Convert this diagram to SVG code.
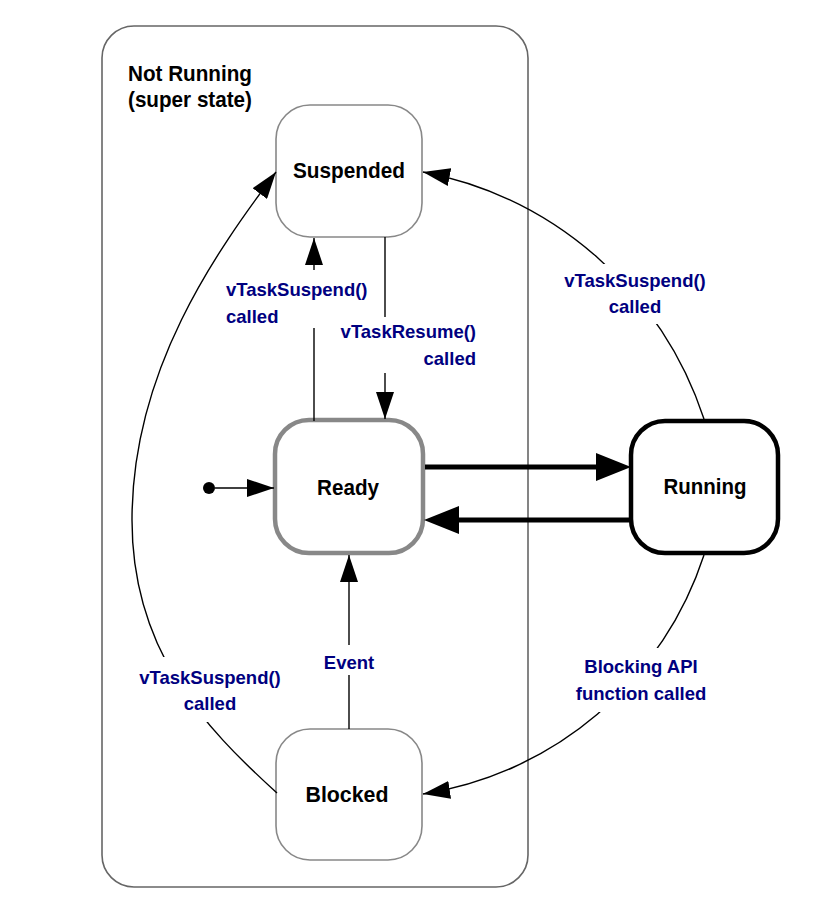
<svg xmlns="http://www.w3.org/2000/svg" width="817" height="900" viewBox="0 0 817 900">
<style>
.title{font-family:"Liberation Sans",Arial,sans-serif;font-weight:bold;font-size:22px;fill:#000}
.lbl{font-family:"Liberation Sans",Arial,sans-serif;font-weight:bold;font-size:18.5px;fill:#000080}
.conn{fill:none;stroke:#000;stroke-width:1.4}
.thick{fill:none;stroke:#000;stroke-width:5}
.bg{fill:#fff;stroke:none}
.light{fill:#fff;stroke:#888;stroke-width:1.6}
</style>
<defs>
<marker id="arr" markerUnits="userSpaceOnUse" markerWidth="28" markerHeight="18" refX="27" refY="9" orient="auto">
<path d="M0,0 L27,9 L0,18 z" fill="#000"/>
</marker>
<marker id="arrT" markerUnits="userSpaceOnUse" markerWidth="36" markerHeight="28" refX="0" refY="14" orient="auto">
<path d="M0,0 L35,14 L0,28 z" fill="#000"/>
</marker>
</defs>
<rect width="817" height="900" fill="#fff"/>

<g id="superstate">
<rect x="102" y="26" width="426" height="861" rx="32" fill="none" stroke="#666" stroke-width="1.6"/>
<text class="title" x="128" y="81" textLength="124" lengthAdjust="spacingAndGlyphs">Not Running</text>
<text class="title" x="128" y="107" textLength="124" lengthAdjust="spacingAndGlyphs">(super state)</text>
</g>

<g id="suspended">
<rect class="light" x="276" y="105" width="146" height="132" rx="34"/>
<text class="title" x="349" y="178" text-anchor="middle" textLength="112" lengthAdjust="spacingAndGlyphs">Suspended</text>
</g>

<g id="ready">
<rect x="275" y="420" width="148" height="133" rx="34" fill="#fff" stroke="#888" stroke-width="4.5"/>
<text class="title" x="348" y="495" text-anchor="middle" textLength="62" lengthAdjust="spacingAndGlyphs">Ready</text>
</g>

<g id="running">
<rect x="631" y="421" width="147" height="132" rx="34" fill="#fff" stroke="#000" stroke-width="4.5"/>
<text class="title" x="705" y="494" text-anchor="middle" textLength="83" lengthAdjust="spacingAndGlyphs">Running</text>
</g>

<g id="blocked">
<rect class="light" x="276" y="729" width="146" height="131" rx="34"/>
<text class="title" x="347" y="802" text-anchor="middle" textLength="83" lengthAdjust="spacingAndGlyphs">Blocked</text>
</g>

<g id="initial">
<circle cx="209" cy="488" r="6" fill="#000"/>
</g>

<g id="connectors">
<path class="conn" d="M215 488 L274 488" marker-end="url(#arr)"/>
<path class="conn" d="M314 421 L314 238" marker-end="url(#arr)"/>
<path class="conn" d="M385 237 L385 419" marker-end="url(#arr)"/>
<path class="conn" d="M349 729 L349 555" marker-end="url(#arr)"/>
<path class="conn" d="M277 793 C203 726 132 650 132 520 C132 370 216 252 276 172" marker-end="url(#arr)"/>
<path class="conn" d="M704 419 A369 369 0 0 0 423 172" marker-end="url(#arr)"/>
<path class="conn" d="M704 555 A352 352 0 0 1 423 794" marker-end="url(#arr)"/>
<path class="thick" d="M425 467 L596 467" marker-end="url(#arrT)"/>
<path class="thick" d="M629 520 L459 520" marker-end="url(#arrT)"/>
</g>

<g id="labels">
<rect class="bg" x="222" y="270" width="152" height="58"/>
<text class="lbl" x="226" y="296">vTaskSuspend()</text>
<text class="lbl" x="226" y="323">called</text>

<rect class="bg" x="336" y="317" width="142" height="56"/>
<text class="lbl" x="476" y="338" text-anchor="end">vTaskResume()</text>
<text class="lbl" x="476" y="365" text-anchor="end">called</text>

<rect class="bg" x="558" y="264" width="154" height="60"/>
<text class="lbl" x="635" y="287" text-anchor="middle">vTaskSuspend()</text>
<text class="lbl" x="635" y="313" text-anchor="middle">called</text>

<rect class="bg" x="135" y="657" width="150" height="65"/>
<text class="lbl" x="210" y="684" text-anchor="middle">vTaskSuspend()</text>
<text class="lbl" x="210" y="710" text-anchor="middle">called</text>

<rect class="bg" x="322" y="645" width="54" height="30"/>
<text class="lbl" x="349" y="669" text-anchor="middle">Event</text>

<rect class="bg" x="572" y="648" width="140" height="64"/>
<text class="lbl" x="641" y="673" text-anchor="middle">Blocking API</text>
<text class="lbl" x="641" y="700" text-anchor="middle">function called</text>
</g>
</svg>
